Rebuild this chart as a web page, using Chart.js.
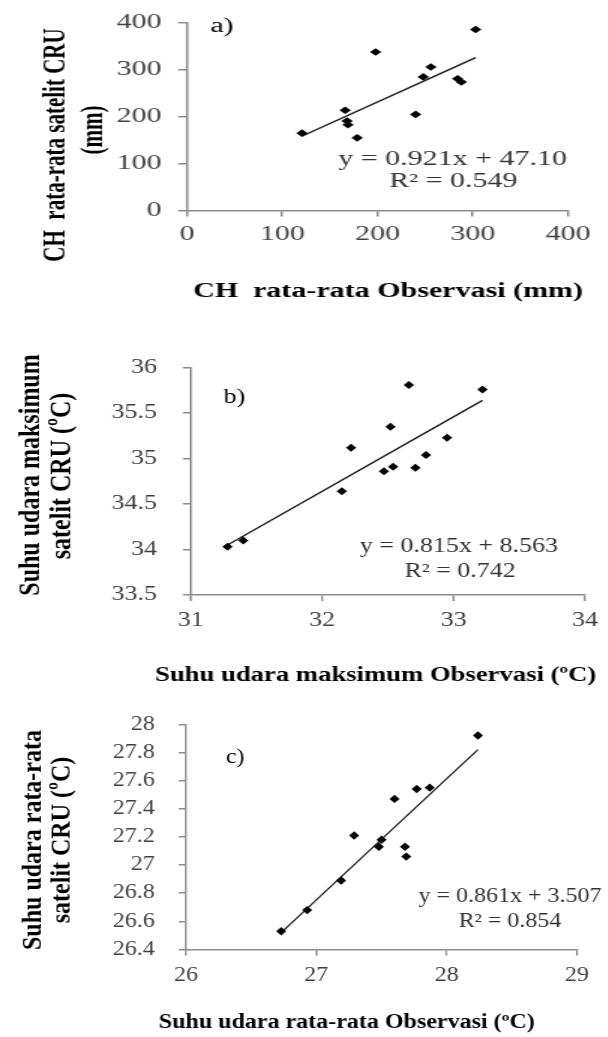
<!DOCTYPE html>
<html>
<head>
<meta charset="utf-8">
<script src="https://cdn.jsdelivr.net/npm/chart.js@4.4.0/dist/chart.umd.min.js"></script>
<style>
    body { margin: 0; background: #fff; width: 608px; height: 1037px; overflow: hidden; position: relative; }
    .box { position: absolute; left: 0; transform-origin: 0 0; }
</style>
</head>
<body>
<div class="box" style="top:0px; transform:scaleX(1.5)"><canvas id="chartA" width="405" height="310"></canvas></div>
<div class="box" style="top:320px; transform:scaleX(1.3)"><canvas id="chartB" width="468" height="370"></canvas></div>
<div class="box" style="top:690px; transform:scaleX(1.2)"><canvas id="chartC" width="507" height="347"></canvas></div>
<script>
// a) rainfall, observed vs CRU (mm)
const obsA = [120.7, 166, 168, 169, 178.6, 198, 240, 248, 256, 284, 288, 303];
const cruA = [165, 214, 191, 183, 155, 338, 205, 285, 306, 281, 274, 386];
const trendA = [{ x: 121, y: 159 }, { x: 303, y: 326 }];

// b) max temperature (ºC)
const obsB = [31.28, 31.40, 32.15, 32.22, 32.47, 32.54, 32.52, 32.66, 32.71, 32.79, 32.95, 33.22];
const cruB = [34.03, 34.10, 34.64, 35.12, 34.86, 34.91, 35.35, 35.81, 34.90, 35.04, 35.23, 35.76];
const trendB = [{ x: 31.28, y: 34.05 }, { x: 33.22, y: 35.64 }];

// c) mean temperature (ºC)
const obsC = [26.73, 26.93, 27.19, 27.29, 27.48, 27.50, 27.60, 27.68, 27.69, 27.77, 27.87, 28.24];
const cruC = [26.53, 26.68, 26.89, 27.21, 27.13, 27.18, 27.47, 27.13, 27.06, 27.54, 27.55, 27.92];
const trendC = [{ x: 26.73, y: 26.52 }, { x: 28.24, y: 27.82 }];

const axisGray = '#8c8c8c';
const tickColor = '#404040';
const serif = '"Liberation Serif", "Times New Roman", serif';

function toPoints(xs, ys) {
    return xs.map((x, i) => ({ x: x, y: ys[i] }));
}

function fmt(v) {
    return String(+Number(v).toFixed(1));
}

// draws panel letter, equation and the axis titles
const textPlugin = {
    id: 'panelText',
    afterDraw(chart, args, opts) {
        const ctx = chart.ctx;
        (opts.items || []).forEach(t => {
            ctx.save();
            ctx.font = t.font;
            ctx.fillStyle = t.color || '#000';
            ctx.textAlign = 'center';
            ctx.textBaseline = 'middle';
            ctx.translate(t.x, t.y);
            if (t.rotate) ctx.rotate(-Math.PI / 2);
            ctx.fillText(t.text, 0, 0);
            ctx.restore();
        });
    }
};

function makeChart(id, cfg) {
    const ctx = document.getElementById(id).getContext('2d');
    return new Chart(ctx, {
        type: 'scatter',
        data: {
            datasets: [{
                data: toPoints(cfg.xs, cfg.ys),
                pointStyle: 'rectRot',
                pointRadius: cfg.radius,
                backgroundColor: '#000',
                borderColor: '#000',
                borderWidth: 0
            }, {
                type: 'line',
                data: cfg.trend,
                borderColor: '#1a1a1a',
                borderWidth: 1.4,
                pointRadius: 0,
                fill: false
            }]
        },
        options: {
            responsive: false,
            animation: false,
            layout: { padding: cfg.padding },
            plugins: {
                legend: { display: false },
                tooltip: { enabled: false },
                panelText: { items: cfg.texts }
            },
            scales: {
                x: {
                    type: 'linear',
                    min: cfg.xMin,
                    max: cfg.xMax,
                    ticks: { stepSize: cfg.xStep, color: tickColor, font: { family: serif, size: 20 }, padding: cfg.xPad, callback: fmt },
                    grid: { drawOnChartArea: false, tickLength: 6, color: axisGray, lineWidth: 1.5 },
                    border: { color: axisGray, width: 1.5 },
                    afterFit: s => { s.height = cfg.xHeight; }
                },
                y: {
                    type: 'linear',
                    min: cfg.yMin,
                    max: cfg.yMax,
                    ticks: { stepSize: cfg.yStep, color: tickColor, font: { family: serif, size: 20 }, padding: cfg.yPad, callback: fmt },
                    grid: { drawOnChartArea: false, tickLength: 6, color: axisGray, lineWidth: 1.5 },
                    border: { color: axisGray, width: 1.5 },
                    afterFit: s => { s.width = cfg.yWidth; }
                }
            }
        },
        plugins: [textPlugin]
    });
}

const chartA = makeChart('chartA', {
    xs: obsA, ys: cruA, trend: trendA, radius: 3.8,
    xMin: 0, xMax: 400, xStep: 100, yMin: 0, yMax: 400, yStep: 100,
    padding: { left: 0, top: 19.3, right: 26.3, bottom: 0 },
    yWidth: 124.7, xHeight: 99.5, xPad: 6, yPad: 11,
    texts: [
        { text: 'a)', x: 148, y: 27, font: '20px ' + serif },
        { text: 'y = 0.921x + 47.10', x: 301.7, y: 160, font: '20px ' + serif, color: '#333' },
        { text: 'R² = 0.549', x: 302.3, y: 182, font: '20px ' + serif, color: '#333' },
        { text: 'CH  rata-rata satelit CRU', x: 38, y: 145, rotate: true, font: 'bold 21px ' + serif },
        { text: '(mm)', x: 62.7, y: 130, rotate: true, font: 'bold 21px ' + serif },
        { text: 'CH  rata-rata Observasi (mm)', x: 258.7, y: 292, font: 'bold 20px ' + serif }
    ]
});

const chartB = makeChart('chartB', {
    xs: obsB, ys: cruB, trend: trendB, radius: 4,
    xMin: 31, xMax: 34, xStep: 1, yMin: 33.5, yMax: 36, yStep: 0.5,
    padding: { left: 0, top: 47.7, right: 14.9, bottom: 0 },
    yWidth: 146.7, xHeight: 95, xPad: 8, yPad: 20,
    texts: [
        { text: 'b)', x: 180.4, y: 78, font: '20px ' + serif },
        { text: 'y = 0.815x + 8.563', x: 353, y: 226.7, font: '20px ' + serif, color: '#333' },
        { text: 'R² = 0.742', x: 354, y: 252, font: '20px ' + serif, color: '#333' },
        { text: 'Suhu udara maksimum', x: 23.8, y: 155, rotate: true, font: 'bold 24px ' + serif },
        { text: 'satelit CRU (ºC)', x: 47.7, y: 156, rotate: true, font: 'bold 24px ' + serif },
        { text: 'Suhu udara maksimum Observasi (ºC)', x: 289, y: 356, font: 'bold 20.5px ' + serif }
    ]
});

const chartC = makeChart('chartC', {
    xs: obsC, ys: cruC, trend: trendC, radius: 4.2,
    xMin: 26, xMax: 29, xStep: 1, yMin: 26.4, yMax: 28, yStep: 0.2,
    padding: { left: 0, top: 34.3, right: 26.2, bottom: 0 },
    yWidth: 155, xHeight: 87.5, xPad: 8, yPad: 20,
    texts: [
        { text: 'c)', x: 196, y: 67.5, font: '20px ' + serif },
        { text: 'y = 0.861x + 3.507', x: 425, y: 206.7, font: '20px ' + serif, color: '#333' },
        { text: 'R² = 0.854', x: 425, y: 231.7, font: '20px ' + serif, color: '#333' },
        { text: 'Suhu udara rata-rata', x: 27.5, y: 150, rotate: true, font: 'bold 24px ' + serif },
        { text: 'satelit CRU (ºC)', x: 51.7, y: 150, rotate: true, font: 'bold 24px ' + serif },
        { text: 'Suhu udara rata-rata Observasi (ºC)', x: 289, y: 333, font: 'bold 20px ' + serif }
    ]
});
</script>
</body>
</html>
